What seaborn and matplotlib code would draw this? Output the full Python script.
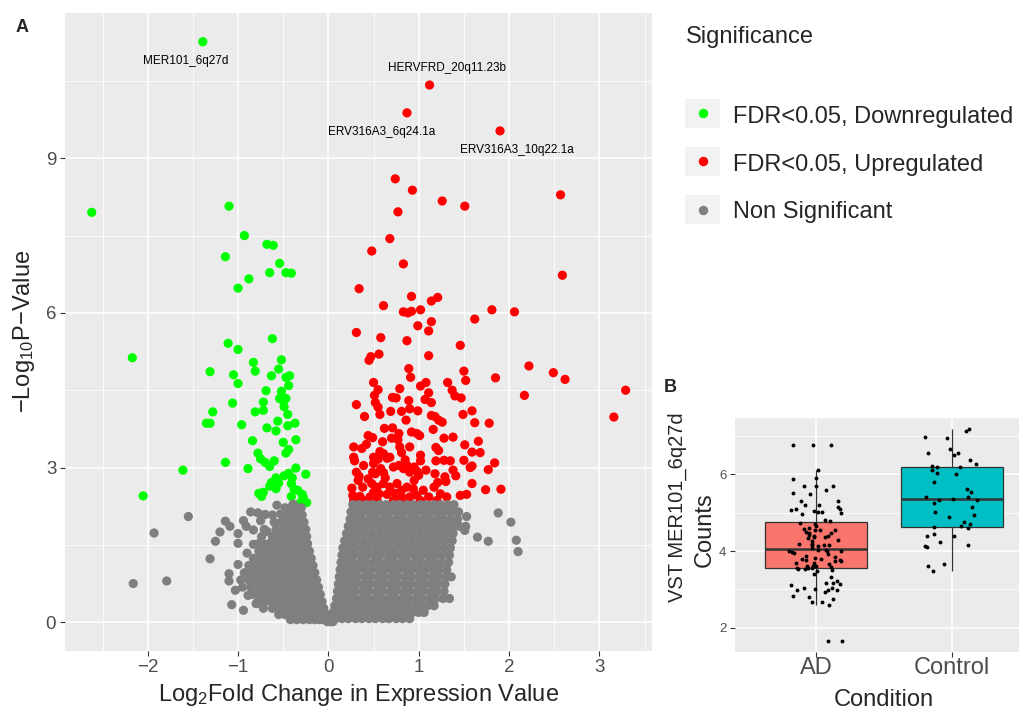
import numpy as np
import pandas as pd
import seaborn as sns
import matplotlib.pyplot as plt
from matplotlib.patches import Rectangle
from matplotlib.lines import Line2D

# ---------------- data ----------------
sig_levels = ["FDR<0.05, Downregulated", "FDR<0.05, Upregulated", "Non Significant"]
sig_colors = ["#00FF00", "#FF0000", "#7F7F7F"]

down_x = [-1.39, -2.62, -1.10, -0.93, -0.68, -0.61, -1.14, -0.54, -0.65, -0.47, -0.41, -0.88, -1.00,
          -1.11, -1.00, -0.62, -2.17, -0.83, -0.52, -1.31, -1.05, -0.81, -0.55, -0.63, -0.47, -0.43,
          -1.00, -0.44, -0.69, -0.52, -0.54, -0.47, -0.50, -0.72, -1.06, -1.28, -0.81, -0.72, -0.49,
          -0.45, -1.35, -1.31, -0.96, -0.56, -0.45, -0.37, -0.68, -0.58, -0.84, -0.50, -0.36, -0.78,
          -0.44, -0.47, -0.75, -0.70, -0.60, -0.65, -1.14, -0.89, -1.61, -0.36, -0.44, -0.49, -0.25,
          -0.40, -0.58, -0.63, -0.55, -0.58, -0.65, -0.41, -0.38, -0.34, -0.29, -0.77, -0.72, -0.74,
          -0.41, -0.28, -0.24, -0.31, -2.05]
down_y = [11.26, 7.95, 8.07, 7.50, 7.33, 7.31, 7.09, 6.96, 6.78, 6.78, 6.77, 6.66, 6.48,
          5.41, 5.29, 5.50, 5.13, 5.04, 5.09, 4.86, 4.80, 4.87, 4.91, 4.78, 4.75, 4.78,
          4.63, 4.59, 4.49, 4.48, 4.34, 4.34, 4.29, 4.27, 4.25, 4.08, 4.08, 4.11, 4.18,
          4.03, 3.86, 3.86, 3.83, 3.90, 3.81, 3.86, 3.77, 3.71, 3.52, 3.49, 3.54, 3.28,
          3.35, 3.28, 3.17, 3.10, 3.13, 3.02, 3.10, 2.98, 2.95, 2.99, 2.89, 2.84, 2.87,
          2.80, 2.80, 2.71, 2.70, 2.59, 2.64, 2.69, 2.58, 2.56, 2.48, 2.50, 2.52, 2.44,
          2.44, 2.43, 2.32, 2.32, 2.45]

up_x = [1.12, 0.87, 1.90, 2.57, 2.59, 0.74, 0.93, 1.26, 1.51, 0.77, 0.68, 0.48, 0.83, 0.34, 0.92,
        1.14, 1.21, 0.61, 0.83, 0.88, 0.92, 1.02, 1.81, 1.62, 0.99, 1.14, 1.11, 0.31, 0.58, 0.87,
        1.46, 2.06, 2.22, 2.49, 2.62, 3.29, 2.17, 3.16, 1.85, 1.50, 1.52, 1.11, 0.45, 0.47, 0.56,
        0.89, 0.91, 0.50, 0.55, 1.32, 1.37, 1.40, 1.47, 1.02, 1.08, 1.11, 1.07, 1.14, 0.79, 0.51,
        0.52, 0.55, 0.57, 0.31, 0.71, 0.75, 0.89, 0.90, 0.69, 0.81, 0.99, 0.40, 1.14, 1.18, 1.22,
        1.26, 1.49, 1.59, 1.62, 1.78, 0.86, 0.62, 0.71, 1.16, 0.44, 0.49, 0.78, 0.70, 0.77, 0.92,
        0.98, 1.01, 1.28, 1.38, 1.66, 1.51, 1.59, 1.68, 0.28, 0.37, 0.79, 0.90, 0.81, 1.19, 1.22,
        0.57, 0.61, 0.65, 0.50, 0.55, 1.02, 1.02, 0.28, 0.29, 1.19, 1.28, 1.35, 1.50, 1.59, 1.57,
        1.84, 1.77, 0.39, 0.31, 0.34, 0.50, 0.49, 0.52, 0.58, 0.61, 0.72, 0.78, 0.83, 0.87, 0.90,
        0.95, 0.98, 1.00, 1.18, 1.29, 1.21, 1.30, 1.38, 1.41, 1.59, 1.74, 1.91, 0.26, 0.38, 0.27,
        0.35, 0.48, 0.54, 0.61, 0.50, 0.56, 0.65, 0.46, 0.68, 0.76, 0.81, 0.87, 0.94, 0.81, 0.90,
        0.98, 1.05, 1.11, 1.17, 1.24, 1.31, 1.46, 1.53, 0.28, 0.39, 0.54, 0.72, 0.87, 1.02, 1.20,
        0.33, 0.44, 0.63, 0.68, 0.85, 0.95, 1.08, 0.42, 0.60, 0.74]
up_y = [10.42, 9.88, 9.53, 8.29, 6.73, 8.60, 8.38, 8.17, 8.07, 7.96, 7.44, 7.20, 6.95, 6.47, 6.32,
        6.23, 6.30, 6.14, 6.02, 6.00, 6.03, 6.06, 6.06, 5.88, 5.75, 5.83, 5.65, 5.62, 5.52, 5.46,
        5.37, 6.02, 4.97, 4.84, 4.71, 4.50, 4.40, 3.98, 4.74, 4.87, 4.69, 5.17, 5.08, 5.15, 5.20,
        4.92, 4.75, 4.65, 4.51, 4.65, 4.50, 4.39, 4.35, 4.58, 4.65, 4.45, 4.32, 4.26, 4.53, 4.40,
        4.26, 4.17, 4.03, 4.22, 4.36, 4.35, 4.30, 4.14, 4.09, 4.09, 4.10, 3.99, 4.01, 3.99, 3.92,
        3.88, 4.03, 4.10, 3.87, 3.86, 3.92, 3.76, 3.77, 3.74, 3.62, 3.58, 3.66, 3.57, 3.54, 3.69,
        3.66, 3.62, 3.57, 3.59, 3.51, 3.44, 3.30, 3.29, 3.40, 3.37, 3.40, 3.40, 3.29, 3.39, 3.33,
        3.31, 3.27, 3.18, 3.20, 3.16, 3.24, 3.13, 3.20, 3.13, 3.13, 3.14, 3.13, 3.14, 3.03, 3.00,
        3.09, 2.96, 3.04, 2.91, 2.83, 3.08, 2.91, 2.88, 2.98, 2.90, 3.01, 3.04, 2.98, 3.04, 2.91,
        3.01, 2.93, 2.85, 2.88, 2.82, 2.71, 2.73, 2.95, 2.84, 2.69, 2.57, 2.58, 2.60, 2.62, 2.46,
        2.44, 2.69, 2.62, 2.69, 2.52, 2.49, 2.48, 2.43, 2.62, 2.69, 2.56, 2.62, 2.59, 2.43, 2.43,
        2.46, 2.56, 2.43, 2.62, 2.49, 2.43, 2.46, 2.48, 2.36, 2.36, 2.36, 2.36, 2.36, 2.36, 2.36,
        2.75, 2.78, 2.80, 3.20, 3.15, 2.75, 2.95, 3.45, 3.50, 2.50]

# scattered grey points away from the dense cloud
ns_x = [-1.55, -1.93, -1.31, -2.16, -1.79, -1.07, -0.94, -1.10, -1.10, -1.03, -1.00, -1.25, -1.20,
        -1.14, -1.09, -1.00, -1.00, -0.94, -0.91, -0.86, -0.78, -0.70, -0.83, -0.75, -0.90, -0.83,
        -0.78, -0.89, -0.80, -0.68, -0.65, -0.57, -0.53, -0.39, 1.88, 2.02, 1.65, 1.77, 2.08, 2.10,
        1.52, 1.51, 1.53]
ns_y = [2.05, 1.73, 1.23, 0.75, 0.80, 0.34, 0.23, 0.94, 0.80, 0.62, 1.12, 1.57, 1.75,
        1.96, 1.86, 1.72, 1.53, 1.97, 1.86, 2.14, 2.12, 2.09, 1.79, 1.97, 1.34, 1.51,
        1.52, 0.52, 0.36, 1.76, 1.53, 2.27, 2.10, 2.29, 2.12, 1.94, 1.65, 1.57, 1.59, 1.37,
        1.86, 1.78, 2.05]

# dense grey cloud, read row by row (-log10 p, list of log2 fold changes)
ns_rows = [
    (2.22, [-0.48, -0.42, -0.35, -0.30]),
    (2.08, [-0.62, -0.46, -0.40, -0.34, -0.29]),
    (1.94, [-0.60, -0.52, -0.45, -0.38, -0.31, -0.27]),
    (1.80, [-0.71, -0.58, -0.50, -0.43, -0.36, -0.29, -0.25]),
    (1.66, [-0.74, -0.62, -0.55, -0.48, -0.41, -0.34, -0.27, -0.24]),
    (1.52, [-0.72, -0.64, -0.57, -0.50, -0.43, -0.36, -0.29, -0.23]),
    (1.38, [-0.77, -0.69, -0.62, -0.55, -0.48, -0.41, -0.34, -0.27, -0.21]),
    (1.24, [-0.83, -0.75, -0.67, -0.60, -0.53, -0.46, -0.39, -0.32, -0.25, -0.19]),
    (1.10, [-0.88, -0.80, -0.72, -0.65, -0.58, -0.51, -0.44, -0.37, -0.30, -0.23, -0.17]),
    (0.96, [-0.93, -0.85, -0.77, -0.70, -0.63, -0.56, -0.49, -0.42, -0.35, -0.28, -0.21, -0.15]),
    (0.82, [-0.97, -0.88, -0.80, -0.73, -0.66, -0.59, -0.52, -0.45, -0.38, -0.31, -0.24, -0.18, -0.13]),
    (0.68, [-0.95, -0.86, -0.78, -0.71, -0.64, -0.57, -0.50, -0.43, -0.36, -0.29, -0.22, -0.16, -0.11]),
    (0.54, [-0.84, -0.76, -0.69, -0.62, -0.55, -0.48, -0.41, -0.34, -0.27, -0.20, -0.14, -0.09]),
    (0.40, [-0.78, -0.70, -0.63, -0.56, -0.49, -0.42, -0.35, -0.28, -0.21, -0.15, -0.10, -0.07]),
    (0.27, [-0.72, -0.62, -0.55, -0.48, -0.41, -0.34, -0.27, -0.20, -0.14, -0.09, -0.05]),
    (0.15, [-0.55, -0.48, -0.41, -0.34, -0.27, -0.20, -0.14, -0.09, -0.05, -0.02]),
    (0.05, [-0.42, -0.35, -0.28, -0.21, -0.15, -0.10, -0.06, -0.03, 0.00]),
    (2.28, [0.27, 0.34, 0.42, 0.49, 0.57, 0.64, 0.72, 0.79, 0.87, 0.94, 1.02, 1.09, 1.17, 1.24, 1.32, 1.39]),
    (2.14, [0.25, 0.31, 0.38, 0.46, 0.53, 0.61, 0.68, 0.76, 0.83, 0.91, 0.98, 1.06, 1.13, 1.21, 1.28, 1.36, 1.44]),
    (2.00, [0.24, 0.30, 0.37, 0.45, 0.52, 0.60, 0.67, 0.75, 0.82, 0.90, 0.97, 1.05, 1.12, 1.20, 1.27, 1.35, 1.43]),
    (1.86, [0.22, 0.28, 0.35, 0.42, 0.50, 0.57, 0.65, 0.72, 0.80, 0.87, 0.95, 1.02, 1.10, 1.17, 1.25, 1.32, 1.40, 1.45]),
    (1.72, [0.20, 0.26, 0.33, 0.41, 0.48, 0.56, 0.63, 0.71, 0.78, 0.86, 0.93, 1.01, 1.08, 1.16, 1.23, 1.31, 1.38]),
    (1.58, [0.18, 0.25, 0.32, 0.39, 0.47, 0.54, 0.62, 0.69, 0.77, 0.84, 0.92, 0.99, 1.07, 1.14, 1.22, 1.29, 1.37]),
    (1.44, [0.16, 0.23, 0.30, 0.38, 0.45, 0.53, 0.60, 0.68, 0.75, 0.83, 0.90, 0.98, 1.05, 1.13, 1.20, 1.28, 1.35]),
    (1.30, [0.15, 0.21, 0.28, 0.36, 0.43, 0.51, 0.58, 0.66, 0.73, 0.81, 0.88, 0.96, 1.03, 1.11, 1.18, 1.26, 1.34]),
    (1.16, [0.14, 0.20, 0.27, 0.35, 0.42, 0.50, 0.57, 0.65, 0.72, 0.80, 0.87, 0.95, 1.02, 1.10, 1.17, 1.25, 1.33]),
    (1.02, [0.13, 0.19, 0.26, 0.33, 0.41, 0.48, 0.56, 0.63, 0.71, 0.78, 0.86, 0.93, 1.01, 1.08, 1.16, 1.23, 1.31]),
    (0.88, [0.12, 0.18, 0.25, 0.32, 0.40, 0.47, 0.55, 0.62, 0.70, 0.77, 0.85, 0.92, 1.00, 1.07, 1.15, 1.22, 1.30, 1.36]),
    (0.74, [0.11, 0.17, 0.24, 0.31, 0.39, 0.46, 0.54, 0.61, 0.69, 0.76, 0.84, 0.91, 0.99, 1.06, 1.14, 1.21, 1.29]),
    (0.60, [0.10, 0.16, 0.23, 0.30, 0.38, 0.45, 0.53, 0.60, 0.68, 0.75, 0.83, 0.90, 0.98, 1.05, 1.13, 1.20, 1.28]),
    (0.46, [0.09, 0.15, 0.22, 0.29, 0.37, 0.44, 0.52, 0.59, 0.67, 0.74, 0.82, 0.89, 0.97, 1.04, 1.12, 1.19, 1.27, 1.34]),
    (0.32, [0.07, 0.13, 0.20, 0.27, 0.35, 0.42, 0.50, 0.57, 0.65, 0.72, 0.80, 0.87, 0.95, 1.02, 1.10, 1.17]),
    (0.19, [0.05, 0.11, 0.18, 0.25, 0.33, 0.40, 0.48, 0.55, 0.63, 0.70, 0.78, 0.85, 0.93, 1.00, 1.06]),
    (0.07, [0.03, 0.08, 0.15, 0.22, 0.30, 0.37, 0.45, 0.52, 0.60, 0.67, 0.75, 0.82, 0.90]),
    (0.01, [-0.01, 0.02, 0.05]),
]

hit_names = ["MER101_6q27d", "ERV316A3_6q24.1a", "HERVFRD_20q11.23b", "ERV316A3_10q22.1a"]

conditions = ["AD", "Control"]
cond_colors = ["#F8766D", "#00BFC4"]
ad_counts = [6.76, 6.76, 6.76, 1.65, 1.65, 6.13, 5.91, 5.89, 5.70, 5.69, 5.60, 5.70, 5.48, 5.51,
             5.21, 5.30, 5.32, 5.04, 5.10, 5.08, 5.03, 4.99, 4.98, 5.20, 5.16, 5.11, 5.02, 4.78,
             4.80, 4.72, 4.74, 4.65, 4.61, 4.54, 4.48, 4.55, 4.47, 4.49, 4.54, 4.58, 4.39, 4.35,
             4.38, 4.42, 4.37, 4.39, 4.26, 4.29, 4.18, 4.16, 4.15, 4.19, 4.17, 4.14, 4.09, 4.00,
             3.96, 3.93, 4.03, 4.01, 4.01, 4.03, 3.97, 3.87, 3.79, 3.79, 3.74, 3.78, 3.85, 3.83,
             3.73, 3.69, 3.78, 3.69, 3.67, 3.61, 3.57, 3.57, 3.61, 3.53, 3.54, 3.55, 3.60, 3.59,
             3.50, 3.49, 3.39, 3.33, 3.21, 3.16, 3.17, 3.14, 3.12, 2.98, 3.03, 3.00, 3.04, 2.98,
             2.98, 2.94, 2.83, 2.81, 2.75, 2.66, 2.68, 2.58]
control_counts = [7.19, 7.14, 6.99, 6.95, 6.66, 6.55, 6.51, 6.57, 6.39, 6.28, 6.21, 6.20, 6.19,
                  6.12, 6.04, 6.02, 5.81, 5.61, 5.53, 5.42, 5.37, 5.40, 5.33, 5.33, 5.25, 5.14,
                  4.94, 5.01, 4.88, 4.77, 4.70, 4.63, 4.65, 4.60, 4.39, 4.44, 4.39, 4.24, 4.16,
                  4.11, 4.12, 3.66, 3.62, 3.48]

# ---------------- tables ----------------
grey_x = list(ns_x)
grey_y = list(ns_y)
for yy, xs in ns_rows:
    grey_x += xs
    grey_y += [yy] * len(xs)

volcano = pd.concat([
    pd.DataFrame({"log2fc": down_x, "nlogp": down_y, "Significance": sig_levels[0]}),
    pd.DataFrame({"log2fc": up_x, "nlogp": up_y, "Significance": sig_levels[1]}),
    pd.DataFrame({"log2fc": grey_x, "nlogp": grey_y, "Significance": sig_levels[2]}),
], ignore_index=True)

counts = pd.DataFrame({
    "Condition": ["AD"] * len(ad_counts) + ["Control"] * len(control_counts),
    "VST": ad_counts + control_counts,
})

# ---------------- style ----------------
sns.set_style("darkgrid", {"axes.facecolor": "#EBEBEB", "grid.color": "white"})
plt.rcParams["font.family"] = ["Liberation Sans", "DejaVu Sans"]
plt.rcParams["mathtext.fontset"] = "custom"
plt.rcParams["mathtext.rm"] = "Liberation Sans"
plt.rcParams["mathtext.it"] = "Liberation Sans:italic"

W, H = 1019, 711
fig = plt.figure(figsize=(W / 100, H / 100), dpi=100)
fig.patch.set_facecolor("white")


def ggplot_axes(ax, xmaj, xmin, ymaj, ymin):
    ax.set_xticks(xmaj)
    ax.set_xticks(xmin, minor=True)
    ax.set_yticks(ymaj)
    ax.set_yticks(ymin, minor=True)
    ax.grid(which="major", color="white", linewidth=1.1)
    ax.grid(which="minor", color="white", linewidth=0.55)
    ax.set_axisbelow(True)
    for s in ax.spines.values():
        s.set_visible(False)
    ax.tick_params(which="major", length=3.8, width=0.8, color="#333333",
                   labelcolor="#4D4D4D", pad=2.5, bottom=True, left=True)
    ax.tick_params(which="minor", length=0)


def expand(vals, frac=0.05):
    lo, hi = min(vals), max(vals)
    pad = (hi - lo) * frac
    return lo - pad, hi + pad


# ---------------- panel A : volcano ----------------
ax = fig.add_axes([65 / W, 60.3 / H, 587.3 / W, 638 / H])
sns.scatterplot(data=volcano, x="log2fc", y="nlogp", hue="Significance",
                hue_order=sig_levels, palette=sig_colors, s=44, linewidth=0,
                legend=False, ax=ax)
ax.set_xlim(*expand(volcano["log2fc"]))
ax.set_ylim(*expand(volcano["nlogp"]))
ggplot_axes(ax, [-2, -1, 0, 1, 2, 3], [-2.5, -1.5, -0.5, 0.5, 1.5, 2.5, 3.5],
            [0, 3, 6, 9], [1.5, 4.5, 7.5, 10.5])
ax.tick_params(labelsize=13.5)
ax.set_xlabel("Log$_\\mathregular{2}$Fold Change in Expression Value", fontsize=17, labelpad=4)
ax.set_ylabel("\u2212Log$_\\mathregular{10}$P\u2212Value", fontsize=17, labelpad=6)

# labels for the top hits, placed next to their points
top_hits = volcano.loc[volcano["nlogp"] > 9.4].sort_values("log2fc")
label_offsets = {"MER101_6q27d": (-0.19, -0.38), "ERV316A3_6q24.1a": (-0.28, -0.37),
                 "HERVFRD_20q11.23b": (0.19, 0.33), "ERV316A3_10q22.1a": (0.19, -0.37)}
for name, (_, row) in zip(hit_names, top_hits.iterrows()):
    dx, dy = label_offsets[name]
    ax.text(row["log2fc"] + dx, row["nlogp"] + dy, name, fontsize=8.5,
            ha="center", va="center", color="black")

# ---------------- panel B : boxplot ----------------
axb = fig.add_axes([735 / W, 59.3 / H, 298 / W, 233.4 / H])
sns.boxplot(data=counts, x="Condition", y="VST", hue="Condition", order=conditions,
            hue_order=conditions, palette=cond_colors, saturation=1, width=0.75,
            showfliers=False, linecolor="#333333", linewidth=0.9, legend=False, ax=axb,
            medianprops={"linewidth": 1.8}, capprops={"visible": False})
np.random.seed(7)
sns.stripplot(data=counts, x="Condition", y="VST", order=conditions, color="black",
              size=2.8, jitter=0.2, linewidth=0, ax=axb)
axb.set_xlim(-0.6, 1.6)
axb.set_ylim(*expand(counts["VST"]))
ggplot_axes(axb, [0, 1], [], [2, 4, 6], [3, 5, 7])
axb.set_xticklabels(conditions)
axb.tick_params(axis="x", labelsize=17, pad=0)
axb.tick_params(axis="y", labelsize=9.5)
axb.set_xlabel("Condition", fontsize=17, labelpad=7.5)
axb.set_ylabel("")
fig.text(677.5 / W, 1 - 507 / H, "VST MER101_6q27d", rotation=90, fontsize=14.5,
         ha="center", va="center")
fig.text(704.5 / W, 1 - 530 / H, "Counts", rotation=90, fontsize=17,
         ha="center", va="center")

# ---------------- legend ----------------
fig.text(686 / W, 1 - 42.7 / H, "Significance", fontsize=17, va="baseline")
key_tops = [98.8, 146.8, 195.2]
baselines = [122.7, 170.7, 218.3]
for lab, col, top, base in zip(sig_levels, sig_colors, key_tops, baselines):
    fig.add_artist(Rectangle((685 / W, 1 - (top + 29) / H), 35 / W, 29 / H,
                             transform=fig.transFigure, facecolor="#F2F2F2", edgecolor="none"))
    fig.add_artist(Line2D([702.5 / W], [1 - (top + 14.5) / H], marker="o", color=col,
                          markersize=5.8, linestyle="none", transform=fig.transFigure))
    fig.text(732.7 / W, 1 - base / H, lab, fontsize=17, va="baseline")

# panel letters
fig.text(22.3 / W, 1 - 27 / H, "A", fontsize=13, fontweight="bold", ha="center", va="center")
fig.text(670.7 / W, 1 - 388 / H, "B", fontsize=13, fontweight="bold", ha="center", va="center")

fig.savefig("out.png", dpi=100)
